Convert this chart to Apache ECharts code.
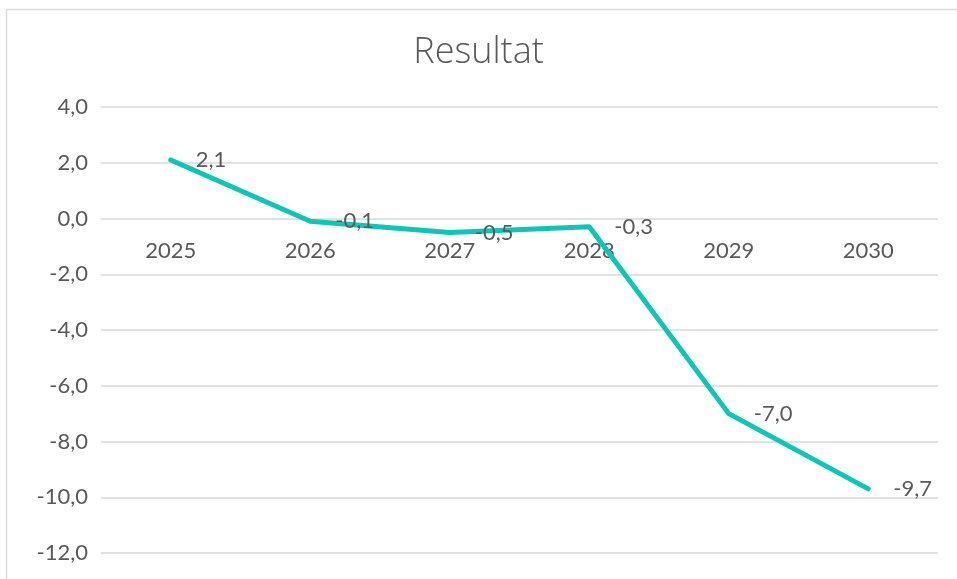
<!DOCTYPE html>
<html>
<head>
<meta charset="utf-8">
<script src="https://cdn.jsdelivr.net/npm/echarts@6/dist/echarts.min.js"></script>
<style>
html,body{margin:0;padding:0;background:#fff;}
#c{width:957px;height:579px;}
</style>
</head>
<body>
<div id="c"></div>
<script>
const categories = ['2025', '2026', '2027', '2028', '2029', '2030'];
const resultat = [2.1, -0.1, -0.5, -0.3, -7.0, -9.7];
const yMin = -12, yMax = 4, yStep = 2;

const fmt = v => v.toFixed(1).replace('.', ',');
const FONT = 'Lato';
const TXT = '#595959';
const GRID = { left: 101, right: 19, top: 107, bottom: 26 };
const gridH = 579 - GRID.top - GRID.bottom;
// move the category axis up to the zero line of the value axis
const zeroOffset = -gridH * (0 - yMin) / (yMax - yMin);

const chart = echarts.init(document.getElementById('c'));
chart.setOption({
  animation: false,
  backgroundColor: '#fff',
  textStyle: { fontFamily: FONT },
  graphic: [{
    type: 'rect', left: 4, top: 7, silent: true,
    shape: { width: 1200, height: 1200 },
    style: { fill: 'none', stroke: '#d9d9d9', lineWidth: 1.5 }
  }],
  title: {
    text: 'Resultat', left: 'center', top: 30,
    textStyle: { fontFamily: "'Open Sans'", fontSize: 36, fontWeight: 300, color: TXT }
  },
  grid: Object.assign({ outerBoundsMode: 'none', containLabel: false }, GRID),
  xAxis: {
    type: 'category', data: categories, boundaryGap: true,
    position: 'bottom', offset: zeroOffset,
    axisLine: { show: false, onZero: false },
    axisTick: { show: false },
    axisLabel: { color: TXT, fontSize: 22, fontFamily: FONT, margin: 21 }
  },
  yAxis: {
    type: 'value', min: yMin, max: yMax, interval: yStep,
    axisLine: { show: false }, axisTick: { show: false },
    splitLine: { lineStyle: { color: '#d9d9d9', width: 1.5 } },
    axisLabel: { color: TXT, fontSize: 22, fontFamily: FONT, margin: 13, formatter: fmt }
  },
  series: [{
    type: 'line', data: resultat,
    symbol: 'circle', symbolSize: 2, showSymbol: true,
    itemStyle: { color: 'rgba(0,0,0,0)' },
    lineStyle: { color: '#0cc6b6', width: 5, cap: 'round', join: 'round' },
    label: {
      show: true, position: 'right', distance: 24, color: TXT,
      fontSize: 22, fontFamily: FONT, offset: [-1, 1],
      formatter: p => fmt(p.value)
    },
    labelLayout: { hideOverlap: false }
  }]
});
</script>
</body>
</html>
